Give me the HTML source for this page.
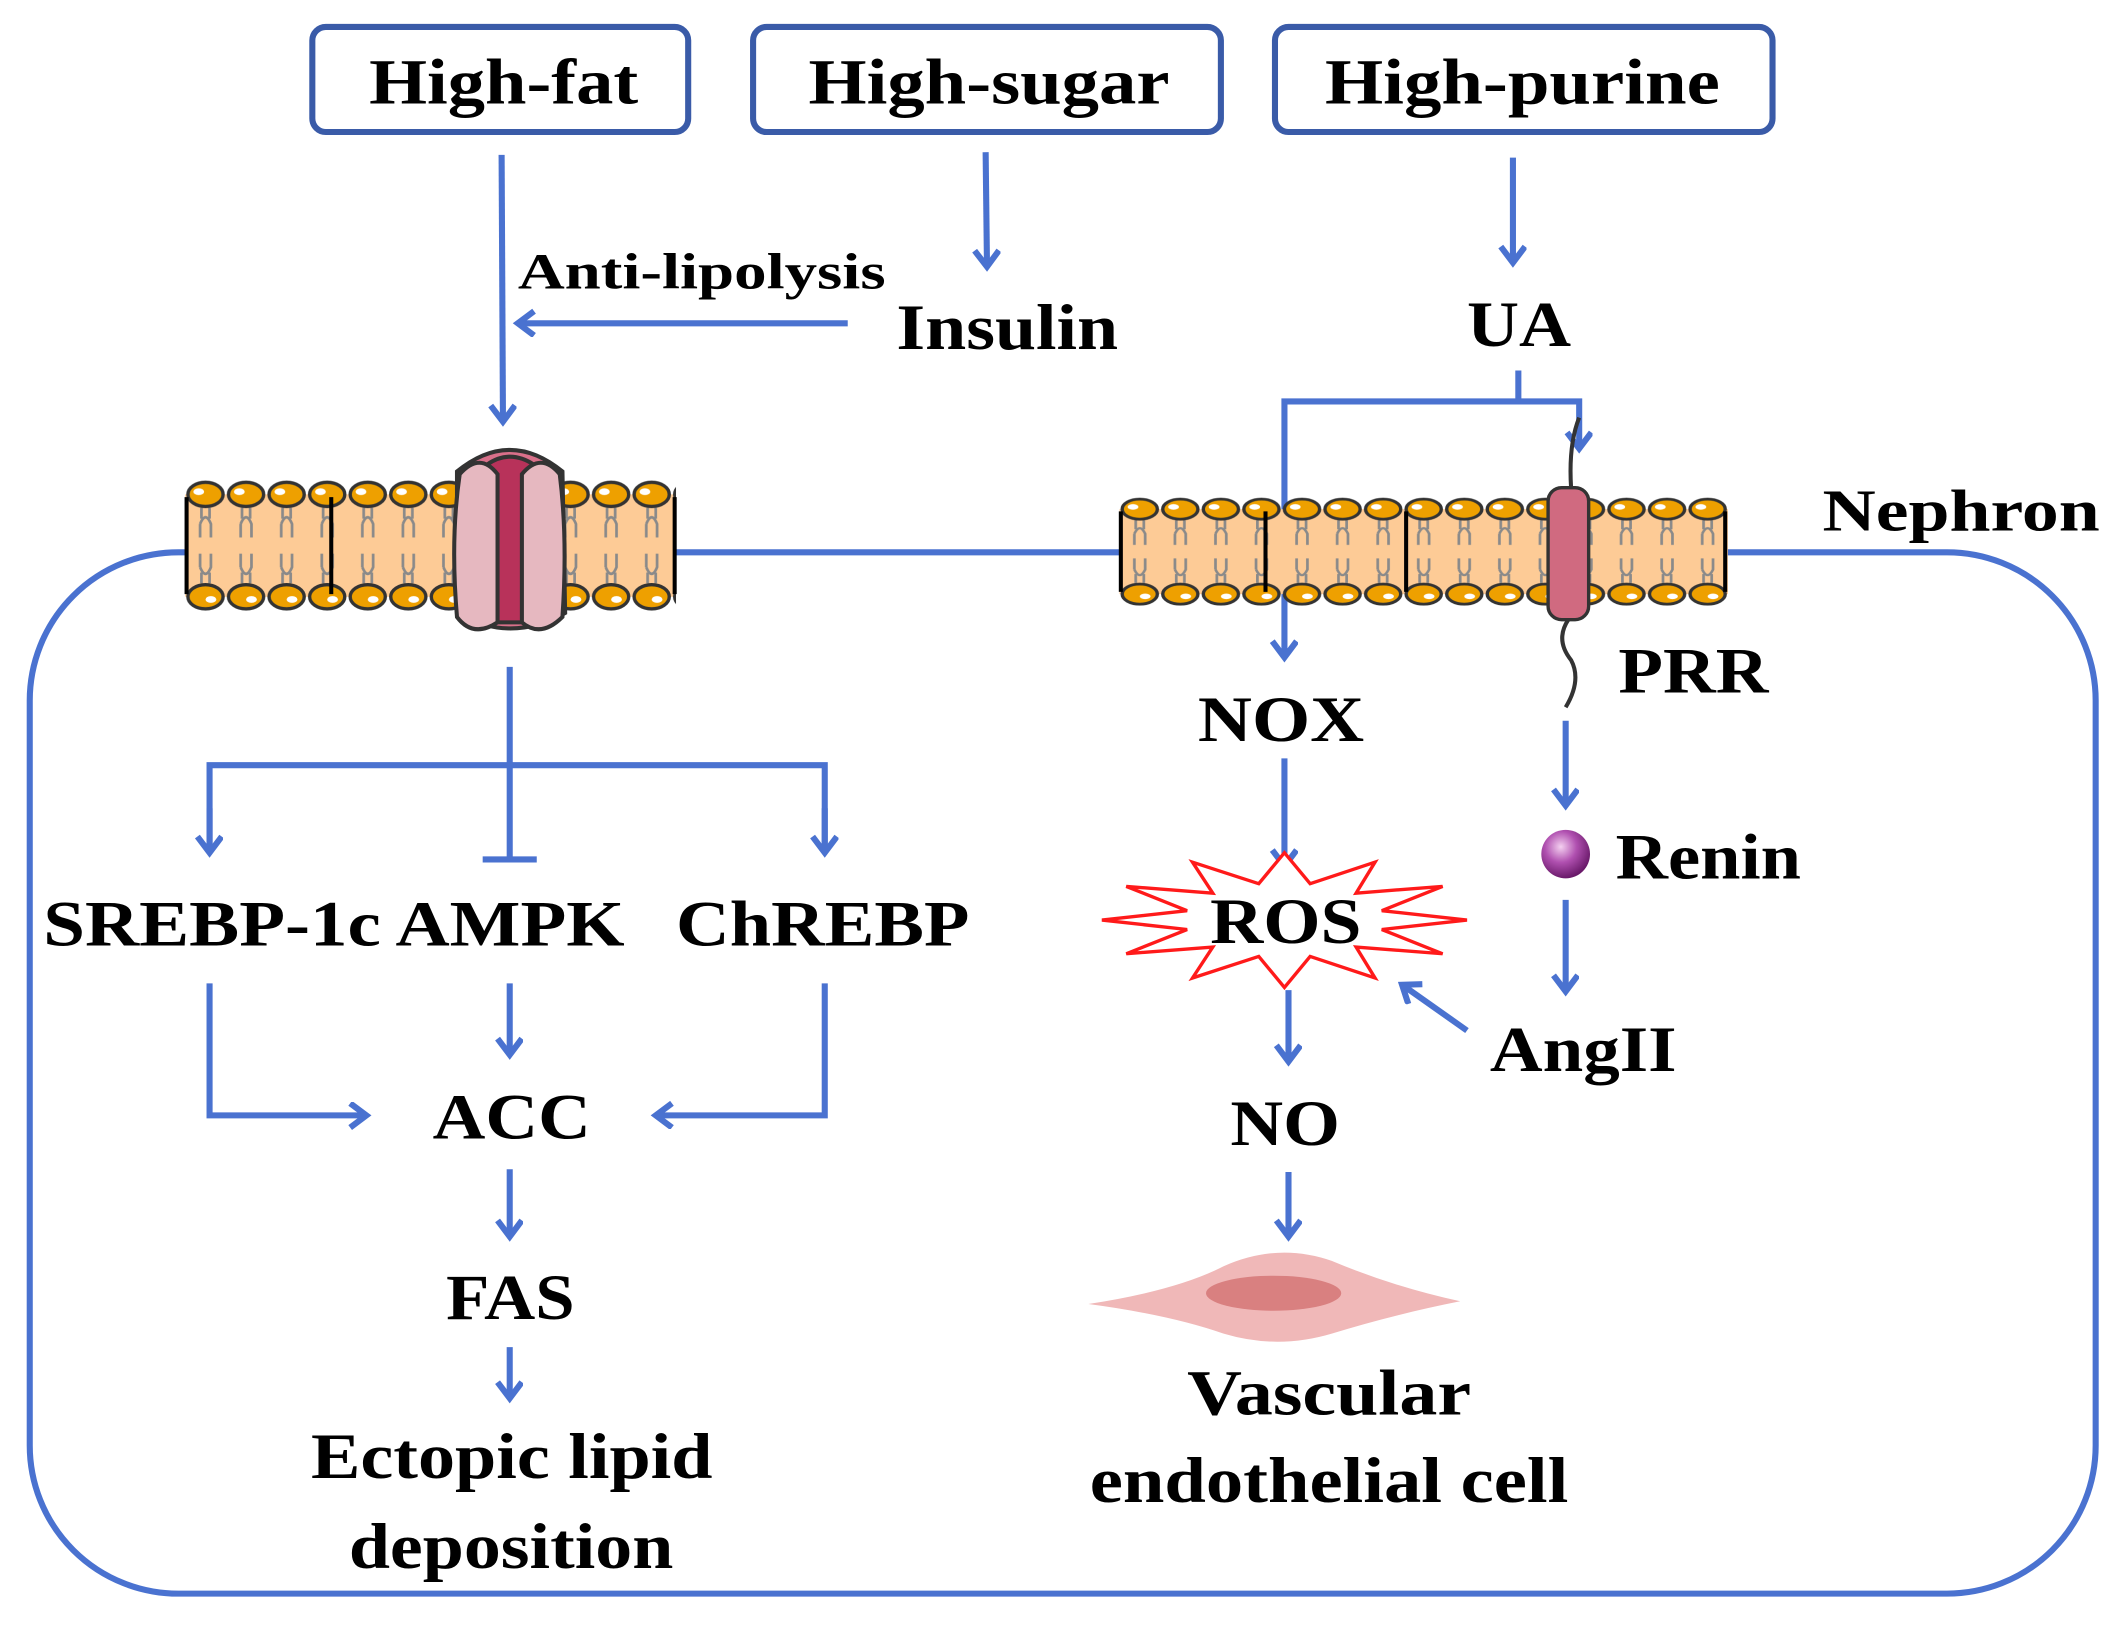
<!DOCTYPE html>
<html><head><meta charset="utf-8"><style>
html,body{margin:0;padding:0;background:#fff;}
svg{display:block;}
text{font-family:"Liberation Serif",serif;font-weight:bold;fill:#000;}
</style></head><body>
<svg width="2120" height="1630" viewBox="0 0 1568 1210" preserveAspectRatio="none" xmlns="http://www.w3.org/2000/svg">
<defs>
<marker id="ah" markerUnits="userSpaceOnUse" markerWidth="30" markerHeight="30" refX="14" refY="10" orient="auto" viewBox="0 0 30 30">
<polyline points="2,1 14,10 2,19" fill="none" stroke="#4a72d0" stroke-width="4.5"/>
</marker>
<pattern id="lip" patternUnits="userSpaceOnUse" width="30" height="100" x="0" y="0">
<rect x="0" y="12" width="30" height="76" fill="#fdcb96"/>
<path d="M12,22 V30 M18,22 V30 M11,34 q4,-10 8,0 v10 M11,34 v10 M12,78 V70 M18,78 V70 M11,66 q4,10 8,0 v-10 M11,66 v-10" stroke="#8a8a8a" stroke-width="2" fill="none"/>
<ellipse cx="15" cy="12" rx="13" ry="9" fill="#eea000" stroke="#333" stroke-width="2.5"/>
<ellipse cx="10" cy="10" rx="4" ry="2.5" fill="#fff"/>
<ellipse cx="15" cy="88" rx="13" ry="9" fill="#eea000" stroke="#333" stroke-width="2.5"/>
<ellipse cx="19" cy="90" rx="4" ry="2.5" fill="#fff"/>
</pattern>
<radialGradient id="rg" cx="0.4" cy="0.35" r="0.65"><stop offset="0" stop-color="#f4d0f0"/><stop offset="0.5" stop-color="#b050b0"/><stop offset="1" stop-color="#6a1a6a"/></radialGradient>
</defs>

<rect x="22" y="410" width="1528" height="773" rx="110" ry="110" fill="none" stroke="#4a72d0" stroke-width="4.5"/>

<g fill="#fff" stroke="#3a5ba8" stroke-width="4.5">
<rect x="231" y="20" width="278" height="78" rx="10"/>
<rect x="557" y="20" width="346" height="78" rx="10"/>
<rect x="943" y="20" width="368" height="78" rx="10"/>
</g>
<g font-size="48" lengthAdjust="spacingAndGlyphs">
<text x="273" y="77" textLength="199" lengthAdjust="spacingAndGlyphs">High-fat</text>
<text x="598" y="77" textLength="267" lengthAdjust="spacingAndGlyphs">High-sugar</text>
<text x="980" y="77" textLength="292" lengthAdjust="spacingAndGlyphs">High-purine</text>
</g>

<g stroke="#4a72d0" stroke-width="4.5" fill="none">
<line x1="371" y1="115" x2="372" y2="313" marker-end="url(#ah)"/>
<line x1="729" y1="113" x2="730" y2="198" marker-end="url(#ah)"/>
<line x1="627" y1="240" x2="383" y2="240" marker-end="url(#ah)"/>
<line x1="1119" y1="117" x2="1119" y2="195" marker-end="url(#ah)"/>
<polyline points="1123,275 1123,298 950,298 950,488" marker-end="url(#ah)"/>
<polyline points="1123,298 1168,298 1168,333" marker-end="url(#ah)"/>
<line x1="377" y1="495" x2="377" y2="638"/>
<line x1="357" y1="638" x2="397" y2="638"/>
<polyline points="155,633 155,568 610,568 610,633"/>
<line x1="155" y1="600" x2="155" y2="633" marker-end="url(#ah)"/>
<line x1="610" y1="600" x2="610" y2="633" marker-end="url(#ah)"/>
<line x1="377" y1="730" x2="377" y2="783" marker-end="url(#ah)"/>
<polyline points="155,730 155,828 271,828" marker-end="url(#ah)"/>
<polyline points="610,730 610,828 485,828" marker-end="url(#ah)"/>
<line x1="377" y1="868" x2="377" y2="918" marker-end="url(#ah)"/>
<line x1="377" y1="1000" x2="377" y2="1038" marker-end="url(#ah)"/>
<line x1="950" y1="563" x2="950" y2="643" marker-end="url(#ah)"/>
<line x1="953" y1="735" x2="953" y2="788" marker-end="url(#ah)"/>
<line x1="953" y1="870" x2="953" y2="918" marker-end="url(#ah)"/>
<line x1="1085" y1="765" x2="1037" y2="731" marker-end="url(#ah)"/>
<line x1="1158" y1="535" x2="1158" y2="598" marker-end="url(#ah)"/>
<line x1="1158" y1="668" x2="1158" y2="736" marker-end="url(#ah)"/>
</g>

<g transform="translate(137,355)">
<rect x="0" y="0" width="363" height="100" fill="url(#lip)"/>
<line x1="1" y1="14" x2="1" y2="86" stroke="#000" stroke-width="3"/>
<line x1="362" y1="14" x2="362" y2="86" stroke="#000" stroke-width="3"/>
<line x1="108" y1="14" x2="108" y2="86" stroke="#000" stroke-width="3"/>
</g>
<g stroke="#333" stroke-width="3">
<path d="M338,350 Q377,318 416,350 L418,455 Q377,478 338,455 Z" fill="#d9708a"/>
<path d="M360,345 Q377,333 395,345 L392,462 L362,462 Z" fill="#b8325a"/>
<path d="M340,352 Q355,335 368,352 L368,462 Q350,474 338,458 Q333,400 340,352Z" fill="#e6b8c0"/>
<path d="M386,352 Q400,335 414,352 Q420,400 416,458 Q400,474 386,462 Z" fill="#e6b8c0"/>
</g>

<g transform="translate(828,368) scale(1,0.83)">
<rect x="0" y="0" width="450" height="100" fill="url(#lip)"/>
<line x1="1" y1="14" x2="1" y2="86" stroke="#000" stroke-width="3"/>
<line x1="108" y1="14" x2="108" y2="86" stroke="#000" stroke-width="3"/>
<line x1="212" y1="14" x2="212" y2="86" stroke="#000" stroke-width="3"/>
<line x1="448" y1="14" x2="448" y2="86" stroke="#000" stroke-width="3"/>
</g>
<path d="M1168,310 Q1160,330 1162,362 M1160,460 Q1150,475 1162,490 Q1170,505 1158,525" stroke="#333" stroke-width="3" fill="none"/>
<rect x="1145" y="362" width="30" height="98" rx="10" fill="#d06a80" stroke="#333" stroke-width="2.5"/>

<polygon points="1085,683 1022,690 1067,708 1003,703 1017,726 969,710 950,733 931,710 882,726 897,703 833,708 878,690 815,683 878,676 833,658 897,663 882,640 931,656 950,633 969,656 1017,640 1003,663 1067,658 1022,676" fill="#fff" stroke="#ff1a1a" stroke-width="2.5"/>

<circle cx="1158" cy="634" r="18" fill="url(#rg)"/>

<path d="M805,968 Q870,958 905,940 Q945,922 985,936 Q1030,955 1080,966 Q1030,976 985,990 Q945,1002 905,990 Q865,976 805,968Z" fill="#f0b8b8"/>
<ellipse cx="942" cy="960" rx="50" ry="13" fill="#d98080"/>

<g font-size="48">
<text x="663" y="259" textLength="164" lengthAdjust="spacingAndGlyphs">Insulin</text>
<text x="1085" y="257" textLength="77" lengthAdjust="spacingAndGlyphs">UA</text>
<text x="886" y="550" textLength="123" lengthAdjust="spacingAndGlyphs">NOX</text>
<text x="895" y="700" textLength="112" lengthAdjust="spacingAndGlyphs">ROS</text>
<text x="910" y="850" textLength="81" lengthAdjust="spacingAndGlyphs">NO</text>
<text x="1197" y="514" textLength="111" lengthAdjust="spacingAndGlyphs">PRR</text>
<text x="1102" y="795" textLength="138" lengthAdjust="spacingAndGlyphs">AngII</text>
<text x="320" y="845" textLength="117" lengthAdjust="spacingAndGlyphs">ACC</text>
<text x="330" y="979" textLength="95" lengthAdjust="spacingAndGlyphs">FAS</text>
<text x="230" y="1097" textLength="297" lengthAdjust="spacingAndGlyphs">Ectopic lipid</text>
<text x="258" y="1164" textLength="240" lengthAdjust="spacingAndGlyphs">deposition</text>
<text x="878" y="1050" textLength="210" lengthAdjust="spacingAndGlyphs">Vascular</text>
<text x="806" y="1115" textLength="354" lengthAdjust="spacingAndGlyphs">endothelial cell</text>
<text x="500" y="702" textLength="217" lengthAdjust="spacingAndGlyphs">ChREBP</text>
<text x="32" y="702" textLength="430" lengthAdjust="spacingAndGlyphs">SREBP-1c AMPK</text>
<text x="1195" y="652" textLength="137" lengthAdjust="spacingAndGlyphs">Renin</text>
</g>
<text x="383" y="214" font-size="38" textLength="272" lengthAdjust="spacingAndGlyphs">Anti-lipolysis</text>
<text x="1348" y="394" font-size="44" textLength="205" lengthAdjust="spacingAndGlyphs">Nephron</text>
</svg>
</body></html>
